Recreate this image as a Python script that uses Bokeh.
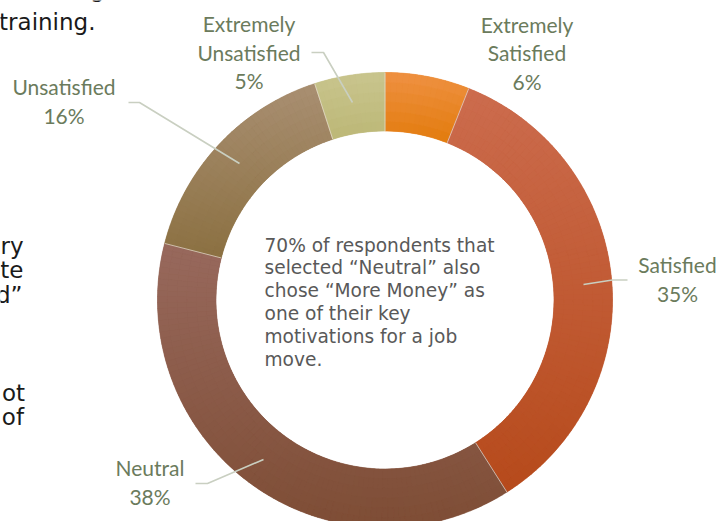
import math
from bokeh.plotting import figure
from bokeh.models import Range1d
from bokeh.core.properties import value
from bokeh.embed import file_html
from bokeh.resources import INLINE

# ---------------- data ----------------
categories = ["Extremely Satisfied", "Satisfied", "Neutral", "Unsatisfied", "Extremely Unsatisfied"]
values = [6, 35, 38, 16, 5]
label_lines = [["Extremely", "Satisfied"], ["Satisfied"], ["Neutral"], ["Unsatisfied"], ["Extremely", "Unsatisfied"]]
top_colors = ["#EF9142", "#CC6C4E", "#98695D", "#A98F72", "#C9C58E"]
bottom_colors = ["#E27B0C", "#B64A1B", "#7E4D35", "#8B7041", "#BCB776"]
center_note = ["70% of respondents that", "selected \u201cNeutral\u201d also", "chose \u201cMore Money\u201d as",
               "one of their key", "motivations for a job", "move."]
side_text = ["ry", "te", "d\u201d", "ot", "of"]

# ---------------- layout ----------------
W, H = 718, 521
CX, CY = 384.5, 299.5          # screen coords of donut centre
R_OUT, R_IN = 227.5, 169.0
LABEL_COLOR = "#6B7B5C"
LEADER_COLOR = "#C9CFC1"

def Y(y):
    return H - y

p = figure(width=W, height=H, x_range=Range1d(0, W), y_range=Range1d(0, H),
           output_backend="svg", toolbar_location=None, min_border=0)
p.axis.visible = False
p.grid.visible = False
p.outline_line_color = None
p.background_fill_color = "white"
p.border_fill_color = "white"

def hex2rgb(h):
    h = h.lstrip("#")
    return tuple(int(h[i:i + 2], 16) for i in (0, 2, 4))

def mix(c1, c2, t):
    a, b = hex2rgb(c1), hex2rgb(c2)
    t = max(0.0, min(1.0, t))
    return "#%02x%02x%02x" % tuple(int(round(a[i] + (b[i] - a[i]) * t)) for i in range(3))

total = float(sum(values))
cum = 0.0
bounds = []
for v in values:
    bounds.append((cum / total, (cum + v) / total))
    cum += v

# base wedges + gradient sub-wedges
base = dict(start=[], end=[], color=[])
sub = dict(start=[], end=[], ir=[], orr=[], color=[])
NR = 6
for i, (f0, f1) in enumerate(bounds):
    a_start = math.pi / 2 - 2 * math.pi * f1
    a_end = math.pi / 2 - 2 * math.pi * f0
    ys = []
    n_s = 60
    for k in range(n_s + 1):
        a = a_start + (a_end - a_start) * k / n_s
        for r in (R_IN, R_OUT):
            ys.append(CY - r * math.sin(a))
    for ang in (math.pi / 2, -math.pi / 2, 3 * math.pi / 2, -3 * math.pi / 2):
        if a_start <= ang <= a_end:
            ys.append(CY - R_OUT * math.sin(ang))
    ymin, ymax = min(ys), max(ys)
    base["start"].append(a_start)
    base["end"].append(a_end)
    base["color"].append(mix(top_colors[i], bottom_colors[i], 0.5))
    n_a = max(2, int(math.degrees(a_end - a_start) / 1.5))
    for k in range(n_a):
        s = a_start + (a_end - a_start) * k / n_a
        e = a_start + (a_end - a_start) * (k + 1) / n_a
        m = (s + e) / 2
        for j in range(NR):
            r0 = R_IN + (R_OUT - R_IN) * j / NR
            r1 = R_IN + (R_OUT - R_IN) * (j + 1) / NR
            rm = (r0 + r1) / 2
            y = CY - rm * math.sin(m)
            t = (y - ymin) / (ymax - ymin)
            sub["start"].append(s)
            sub["end"].append(e)
            sub["ir"].append(r0)
            sub["orr"].append(r1)
            sub["color"].append(mix(top_colors[i], bottom_colors[i], t))

p.annular_wedge(x=CX, y=Y(CY), inner_radius=R_IN, outer_radius=R_OUT,
                start_angle=base["start"], end_angle=base["end"],
                fill_color=base["color"], line_color=None)
p.annular_wedge(x=CX, y=Y(CY), inner_radius=sub["ir"], outer_radius=sub["orr"],
                start_angle=sub["start"], end_angle=sub["end"],
                fill_color=sub["color"], line_color=sub["color"], line_width=0.6)

# separators between slices
sx0, sy0, sx1, sy1 = [], [], [], []
for (f0, f1) in bounds:
    a = math.pi / 2 - 2 * math.pi * f0
    sx0.append(CX + R_IN * math.cos(a)); sy0.append(Y(CY) + R_IN * math.sin(a))
    sx1.append(CX + R_OUT * math.cos(a)); sy1.append(Y(CY) + R_OUT * math.sin(a))
p.segment(x0=sx0, y0=sy0, x1=sx1, y1=sy1, line_color="#E8DCD2", line_width=0.8, line_alpha=0.9)

# leader lines
leaders = [
    None,
    [(583, 284), (612, 279.5), (627, 279.5)],
    [(263, 459), (207, 483), (195, 483)],
    [(239, 163), (139, 102), (128, 102)],
    [(352, 102), (323, 52), (311, 52)],
]
lx, ly = [], []
for ld in leaders:
    if ld:
        lx.append([q[0] for q in ld])
        ly.append([Y(q[1]) for q in ld])
p.multi_line(xs=lx, ys=ly, line_color=LEADER_COLOR, line_width=1.6)

# data labels
label_pos = [(526.5, 23.5), (677, 264), (149.5, 467), (63.5, 86), (248.5, 23)]
LS = 28.5
tx, ty, tt = [], [], []
for i, lines in enumerate(label_lines):
    cx, by = label_pos[i]
    allines = lines + ["%d%%" % values[i]]
    for k, ln in enumerate(allines):
        tx.append(cx); ty.append(Y(by + k * LS)); tt.append(ln)
p.text(x=tx, y=ty, text=tt, text_font=value("Lato"), text_font_size="21px",
       text_color=LABEL_COLOR, text_align="center", text_baseline="alphabetic")

# centre note
p.text(x=[264] * len(center_note), y=[Y(244.5 + k * 22.8) for k in range(len(center_note))],
       text=center_note, text_font=value("DejaVu Sans"), text_font_size="18.6px",
       text_color="#595959", text_align="left", text_baseline="alphabetic")

# cropped slide text on the left
p.text(x=[95, 104], y=[Y(21), Y(-12)], text=["training.", "g"], text_font=value("DejaVu Sans"),
       text_font_size="23px", text_color="#1A1A1A", text_align="right", text_baseline="alphabetic")
side_y = [245, 269.5, 294, 392, 416.5]
p.text(x=[23, 23, 22, 24.5, 23.5], y=[Y(v) for v in side_y], text=side_text,
       text_font=value("DejaVu Sans"), text_font_size="23px", text_color="#1A1A1A",
       text_align="right", text_baseline="alphabetic")

open("out.html", "w").write(file_html(p, INLINE))
